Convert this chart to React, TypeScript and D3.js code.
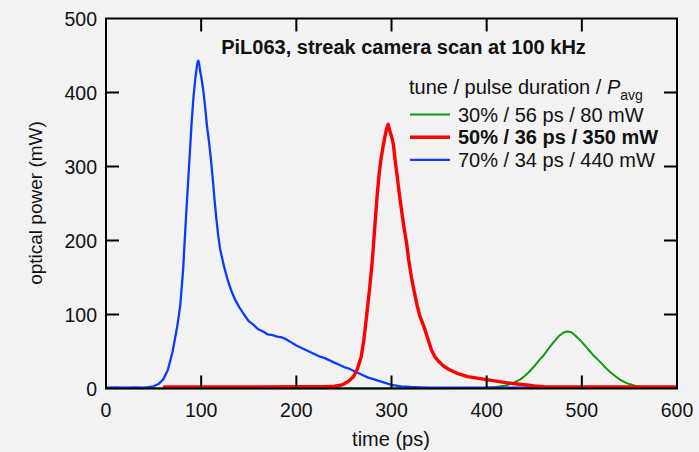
import React from "react";
import * as d3 from "d3";

const W = 699;
const H = 452;

const xTicks = [0, 100, 200, 300, 400, 500, 600];
const yTicks = [0, 100, 200, 300, 400, 500];

const greenT = [0, 50, 100, 150, 200, 250, 300, 350, 400, 410, 420, 428, 435, 440, 445, 450, 455, 460, 464, 468, 472, 476, 480, 484, 488, 492, 496, 500, 504, 508, 512, 516, 520, 525, 530, 535, 540, 545, 550, 555, 560, 570, 580, 600];
const greenV = [0.5, 0.5, 0.5, 0.5, 0.5, 0.5, 0.5, 0.5, 1, 2, 4, 7.5, 12, 17, 23, 30, 38, 45, 52, 59, 65, 71, 75, 77, 76.5, 73, 68, 63, 57, 51, 45, 40, 35, 28, 22, 17, 12, 8.5, 6, 4, 2.5, 1.5, 1, 1];

const blueT = [0, 10, 20, 30, 40, 45, 50, 55, 60, 65, 70, 75, 78, 81, 84, 87, 90, 92, 94, 96, 97, 98, 99, 100, 102, 104, 106, 108, 110, 112, 114, 116, 118, 120, 124, 128, 132, 136, 140, 145, 150, 155, 160, 165, 170, 175, 180, 185, 190, 195, 200, 205, 210, 215, 220, 225, 230, 235, 240, 245, 250, 255, 260, 265, 270, 275, 280, 285, 290, 295, 300, 305, 310, 320, 330, 340, 360, 400, 440, 470];
const blueV = [1, 1.5, 1, 1.5, 1, 2, 3, 6, 12, 25, 50, 85, 112, 160, 230, 295, 360, 395, 420, 440, 443, 438, 428, 422, 405, 383, 356, 336, 313, 286, 256, 229, 206, 188, 165, 146, 131, 119, 110, 100, 91, 86, 80, 77, 73, 72, 70, 69, 66, 62, 58, 55, 52, 49, 46, 43, 41, 38, 35, 32, 29, 27, 24, 21, 18, 15, 13, 11, 9, 7, 5, 4, 3, 2, 1.5, 1, 1, 1, 1, 1];

const redT = [60, 100, 150, 200, 230, 240, 245, 250, 255, 260, 264, 268, 271, 274, 277, 280, 283, 285, 287, 289, 291, 293, 295, 296.5, 298, 300, 302, 304, 306, 308, 310, 313, 316, 318, 321, 324, 327, 330, 334, 338, 342, 346, 350, 355, 360, 365, 370, 380, 390, 400, 410, 420, 430, 440, 450, 460, 470, 500, 550, 600];
const redV = [2, 2, 2, 2.5, 2.5, 3, 4, 6, 10, 16, 26, 42, 66, 100, 135, 175, 228, 262, 290, 310, 326, 340, 352, 357, 349, 341, 330, 306, 287, 265, 246, 219, 195, 174, 150, 130, 112, 97, 84, 68, 52, 42, 36, 30, 26, 23, 20, 16, 14, 12, 10, 8, 6.5, 5, 3.5, 2.5, 2, 2, 2, 2];

const legendHeader = "tune / pulse duration / ";
const legendLabels = ["30% / 56 ps / 80 mW", "50% / 36 ps / 350 mW", "70% / 34 ps / 440 mW"];
const seriesColors = ["#119a11", "#ff0000", "#0a3cff"];
const seriesWidths = [2, 3.4, 2.3];
const title = "PiL063, streak camera scan at 100 kHz";

const FONT = "'Liberation Sans', Arial, sans-serif";

export default function App() {
  const x = d3.scaleLinear().domain([0, 600]).range([106, 677]);
  const y = d3.scaleLinear().domain([0, 500]).range([388.5, 18.5]);
  const line = d3
    .line<[number, number]>()
    .x((d) => x(d[0]))
    .y((d) => y(d[1]));

  const series = [
    greenT.map((t, i) => [t, greenV[i]] as [number, number]),
    redT.map((t, i) => [t, redV[i]] as [number, number]),
    blueT.map((t, i) => [t, blueV[i]] as [number, number]),
  ];
  const drawOrder = [0, 2, 1];

  const x0 = x(0), x1 = x(600), y0 = y(0), y1 = y(500);
  const tk = 13;

  return (
    <svg
      width={W}
      height={H}
      style={{ position: "absolute", left: 0, top: 0, display: "block" }}
      fontFamily={FONT}
    >
      <rect x={0} y={0} width={W} height={H} fill="#f2f2f2" />
      {drawOrder.map((si) => (
        <path
          key={si}
          d={line(series[si]) || ""}
          fill="none"
          stroke={seriesColors[si]}
          strokeWidth={seriesWidths[si]}
          strokeLinejoin="round"
        />
      ))}
      <rect x={x0} y={y1} width={x1 - x0} height={y0 - y1} fill="none" stroke="#000" strokeWidth={2} />
      {xTicks.slice(1, -1).map((t) => (
        <g key={"xt" + t}>
          <line x1={x(t)} x2={x(t)} y1={y0} y2={y0 - tk} stroke="#000" strokeWidth={2} />
          <line x1={x(t)} x2={x(t)} y1={y1} y2={y1 + tk} stroke="#000" strokeWidth={2} />
        </g>
      ))}
      {yTicks.slice(1, -1).map((t) => (
        <g key={"yt" + t}>
          <line x1={x0} x2={x0 + tk} y1={y(t)} y2={y(t)} stroke="#000" strokeWidth={2} />
          <line x1={x1} x2={x1 - tk} y1={y(t)} y2={y(t)} stroke="#000" strokeWidth={2} />
        </g>
      ))}
      {xTicks.map((t) => (
        <text key={"xl" + t} x={x(t)} y={417} textAnchor="middle" fontSize={19.5} fill="#111">
          {t}
        </text>
      ))}
      {yTicks.map((t) => (
        <text key={"yl" + t} x={97} y={y(t) + 7} textAnchor="end" fontSize={19.5} fill="#111">
          {t}
        </text>
      ))}
      <text x={391} y={446} textAnchor="middle" fontSize={20} fill="#111">
        time (ps)
      </text>
      <text
        transform={`translate(42,203) rotate(-90)`}
        textAnchor="middle"
        fontSize={19}
        fill="#111"
      >
        optical power (mW)
      </text>
      <text x={403.5} y={54} textAnchor="middle" fontSize={20} fontWeight="bold" fill="#111">
        {title}
      </text>
      <text x={409} y={94} fontSize={20} fill="#111">
        {legendHeader}
        <tspan fontStyle="italic">P</tspan>
        <tspan fontSize={14} dy={6}>avg</tspan>
      </text>
      {legendLabels.map((lab, i) => {
        const ly = 114.5 + i * 22.7;
        return (
          <g key={lab}>
            <line x1={410} x2={450} y1={ly} y2={ly} stroke={seriesColors[i]} strokeWidth={i === 1 ? 3.4 : 2.2} />
            <text x={458} y={ly + 7} fontSize={20} fontWeight={i === 1 ? "bold" : "normal"} fill="#111">
              {lab}
            </text>
          </g>
        );
      })}
    </svg>
  );
}
